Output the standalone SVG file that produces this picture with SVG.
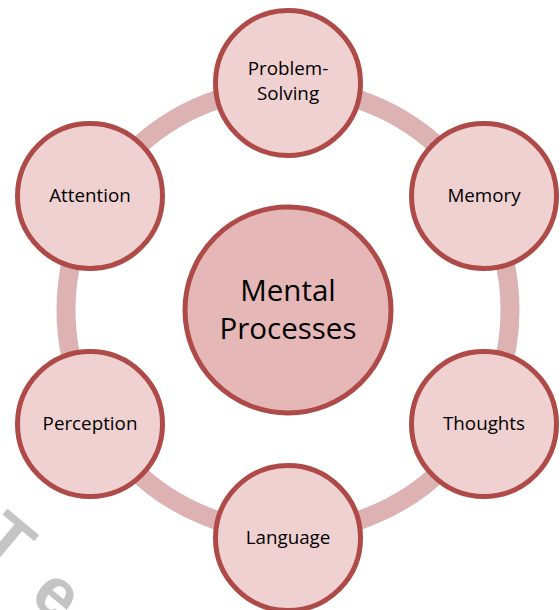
<svg xmlns="http://www.w3.org/2000/svg" width="560" height="610" viewBox="0 0 560 610">
<style>
.node{fill:#f0d1d1;stroke:#ae4a48;stroke-width:5}
.hub{fill:#e6b7b7;stroke:#ae4a48;stroke-width:5}
.lbl{font-family:"Open Sans","Liberation Sans",sans-serif;font-size:18.8px;fill:#000;text-anchor:middle}
.big{font-family:"Open Sans","Liberation Sans",sans-serif;font-size:29.5px;fill:#000;text-anchor:middle}
.wm{font-family:"Liberation Sans",Arial,sans-serif;font-weight:bold;font-size:70px;fill:#c4c4c4}
</style>
<rect width="560" height="610" fill="#ffffff"/>
<g id="connectors">
<circle cx="288" cy="310" r="222" fill="none" stroke="#dcb2b2" stroke-width="19"/>
</g>
<g id="watermark">
<text class="wm" transform="translate(-24,545) rotate(40)">T</text>
<text class="wm" transform="translate(28,599) rotate(40)">e</text>
</g>
<g id="center">
<circle class="hub" cx="288" cy="310" r="103"/>
<text class="big" x="288" y="301">Mental</text>
<text class="big" x="288" y="339">Processes</text>
</g>
<g id="problem-solving">
<circle class="node" cx="288" cy="83" r="72.5"/>
<text class="lbl" x="288" y="75">Problem-</text>
<text class="lbl" x="288" y="100">Solving</text>
</g>
<g id="memory">
<circle class="node" cx="484" cy="196" r="72.5"/>
<text class="lbl" x="484" y="202">Memory</text>
</g>
<g id="thoughts">
<circle class="node" cx="484" cy="424" r="72.5"/>
<text class="lbl" x="484" y="430">Thoughts</text>
</g>
<g id="language">
<circle class="node" cx="288" cy="538" r="72.5"/>
<text class="lbl" x="288" y="544">Language</text>
</g>
<g id="perception">
<circle class="node" cx="90" cy="424" r="72.5"/>
<text class="lbl" x="90" y="430">Perception</text>
</g>
<g id="attention">
<circle class="node" cx="90" cy="196" r="72.5"/>
<text class="lbl" x="90" y="202">Attention</text>
</g>
</svg>
